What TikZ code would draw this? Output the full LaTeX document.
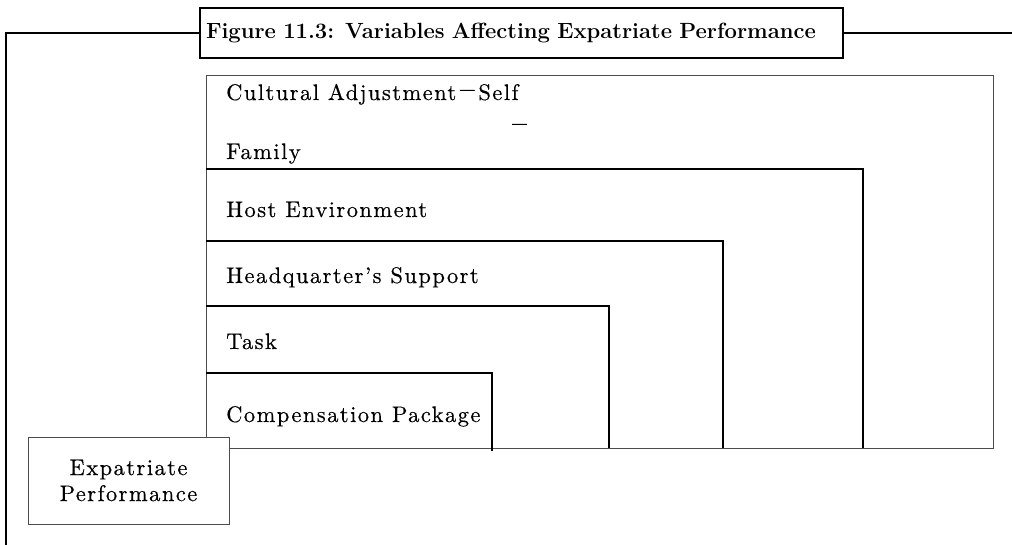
\documentclass[tikz,border=0pt]{standalone}
\usepackage{fontspec}
\newfontfamily\lblfont[LetterSpace=6.5,Ligatures=TeX,FakeBold=0.4]{lmroman10-regular.otf}
\begin{document}
\tikzset{
  lbl/.style={anchor=base west, inner sep=0pt, font=\lblfont\fontsize{22.5}{24}\selectfont},
  titlebox/.style={draw, line width=1.8pt, minimum height=50pt, text width=631pt, inner xsep=6pt, align=left, font=\fontsize{22}{26}\selectfont\bfseries},
  framel/.style={line width=1.8pt},
  nest/.style={line width=1.8pt},
  thinbox/.style={line width=1pt, draw=black!70},
  expbox/.style={draw=black!70, line width=1pt, fill=white, minimum width=201pt, minimum height=87pt, align=center, inner sep=0pt, font=\lblfont\fontsize{22.5}{26}\selectfont}
}
\begin{tikzpicture}[x=1pt,y=-1pt]
\useasboundingbox (0,0) rectangle (1012,545);
% title and frame
\node[titlebox] (title) at (521.5,33) {Figure 11.3: Variables Affecting Expatriate Performance};
\coordinate (fbot) at (6,545);
\coordinate (fright) at (1012,33);
\draw[framel] (title.west) -| (fbot);
\draw[framel] (title.east) -- (fright);
% outer thin rectangle
\draw[thinbox] (206,76) rectangle (993,448);
% nested L shapes
\draw[nest] (206,169) -- (863,169) -- (863,448);
\draw[nest] (206,241) -- (723,241) -- (723,448);
\draw[nest] (206,306) -- (609,306) -- (609,448);
\draw[nest] (206,373) -- (492,373) -- (492,451);
% labels
\node[lbl] (cult) at (226,100) {Cultural Adjustment\,\scalebox{1.3}[1.6]{--}\,Self};
\node[lbl] (dash) at (512,134) {\scalebox{1.3}[1.6]{--}};
\node[lbl] (fam) at (226,159) {Family};
\node[lbl] (host) at (226,217) {Host Environment};
\node[lbl] (hq) at (226,283) {Headquarter's Support};
\node[lbl] (task) at (226,349) {Task};
\node[lbl] (comp) at (226,422) {Compensation Package};
% expatriate box
\node[expbox] (exp) at (128.5,480.5) {Expatriate\\Performance};
\end{tikzpicture}
\end{document}
